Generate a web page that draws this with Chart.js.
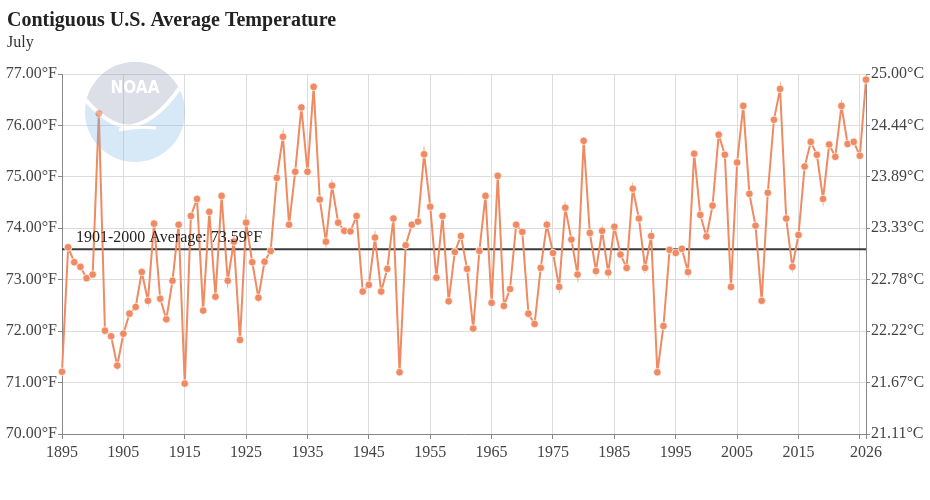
<!DOCTYPE html>
<html>
<head>
<meta charset="utf-8">
<script src="https://cdn.jsdelivr.net/npm/chart.js@4"></script>
<style>
  html, body { margin: 0; padding: 0; background: #fff; }
  #wrap { width: 930px; height: 500px; position: relative; }
</style>
</head>
<body>
<div id="wrap"><canvas id="tempChart"></canvas></div>
<script>
// July average temperature, contiguous U.S. (°F)
const startYear = 1895;
const endYear = 2026;
const julyTemps = [
  71.21, 73.63, 73.34, 73.25, 73.03, 73.10, 76.23, 72.01, 71.90, 71.33, // 1895-1904
  71.95, 72.34, 72.47, 73.15, 72.59, 74.09, 72.63, 72.23, 72.98, 74.07, // 1905-1914
  70.98, 74.24, 74.57, 72.40, 74.32, 72.67, 74.63, 72.98, 73.74, 71.83, // 1915-1924
  74.11, 73.34, 72.65, 73.35, 73.56, 74.98, 75.78, 74.07, 75.10, 76.35, // 1925-1934
  75.10, 76.75, 74.56, 73.74, 74.83, 74.11, 73.95, 73.94, 74.24, 72.77, // 1935-1944
  72.90, 73.82, 72.77, 73.21, 74.19, 71.20, 73.67, 74.07, 74.13, 75.44, // 1945-1954
  74.42, 73.04, 74.24, 72.58, 73.54, 73.85, 73.21, 72.05, 73.56, 74.63, // 1955-1964
  72.55, 75.02, 72.49, 72.82, 74.07, 73.93, 72.34, 72.14, 73.23, 74.07, // 1965-1974
  73.52, 72.86, 74.40, 73.78, 73.10, 75.70, 73.91, 73.17, 73.95, 73.14, // 1975-1984
  74.03, 73.49, 73.23, 74.77, 74.19, 73.23, 73.85, 71.20, 72.10, 73.58, // 1985-1994
  73.52, 73.60, 73.15, 75.45, 74.26, 73.84, 74.44, 75.82, 75.43, 72.86, // 1995-2004
  75.28, 76.38, 74.67, 74.05, 72.59, 74.69, 76.11, 76.71, 74.19, 73.25, // 2005-2014
  73.87, 75.20, 75.68, 75.43, 74.57, 75.63, 75.39, 76.38, 75.64, 75.68, // 2015-2024
  75.41, 76.89                                                          // 2025-2026
];
const years = julyTemps.map((v, i) => startYear + i);
const averageValue = 73.59;
const yearTicks = [1895, 1905, 1915, 1925, 1935, 1945, 1955, 1965, 1975, 1985, 1995, 2005, 2015, 2025, 2026];
const fTicks = [70, 71, 72, 73, 74, 75, 76, 77];

const serif = '"Liberation Serif", "Times New Roman", serif';

// NOAA logo, drawn once off screen then laid over the chart
function makeLogo() {
  const c = document.createElement('canvas');
  c.width = 104; c.height = 104;
  const g = c.getContext('2d');
  g.beginPath();
  g.arc(52, 52, 50, 0, Math.PI * 2);
  g.clip();
  g.fillStyle = 'rgb(122,182,225)';
  g.fillRect(0, 0, 104, 104);
  g.fillStyle = 'rgb(138,145,178)';
  g.beginPath();
  g.moveTo(0, 37);
  g.quadraticCurveTo(28, 70, 50, 66);
  g.quadraticCurveTo(80, 58, 104, 16);
  g.lineTo(104, 0);
  g.lineTo(0, 0);
  g.closePath();
  g.fill();
  g.strokeStyle = '#fff';
  g.lineWidth = 4;
  g.beginPath();
  g.moveTo(0, 37);
  g.quadraticCurveTo(28, 70, 50, 66);
  g.quadraticCurveTo(80, 58, 104, 16);
  g.stroke();
  g.lineWidth = 3;
  g.beginPath();
  g.moveTo(36, 70);
  g.quadraticCurveTo(55, 66, 73, 68);
  g.stroke();
  g.fillStyle = '#fff';
  g.font = 'bold 17px "DejaVu Sans Condensed", "DejaVu Sans", sans-serif';
  g.textAlign = 'center';
  g.textBaseline = 'middle';
  g.fillText('NOAA', 52, 29);
  return c;
}
const logo = makeLogo();

const decorations = {
  id: 'decorations',
  afterDatasetsDraw(chart) {
    const ctx = chart.ctx;
    const x = chart.scales.x, y = chart.scales.y;
    ctx.save();
    ctx.fillStyle = '#222';
    ctx.font = '16px ' + serif;
    ctx.textBaseline = 'alphabetic';
    ctx.fillText('1901-2000 Average: ' + averageValue.toFixed(2) + '°F',
      x.getPixelForValue(startYear) + 14, y.getPixelForValue(averageValue) - 7);
    ctx.globalAlpha = 0.3;
    ctx.drawImage(logo, 83, 60);
    ctx.restore();
  },
  afterDraw(chart) {
    const ctx = chart.ctx;
    ctx.save();
    ctx.fillStyle = '#222';
    ctx.font = 'bold 20px ' + serif;
    ctx.fillText('Contiguous U.S. Average Temperature', 7, 26);
    ctx.fillStyle = '#333';
    ctx.font = '16px ' + serif;
    ctx.fillText('July', 7, 47);
    ctx.restore();
  }
};

new Chart(document.getElementById('tempChart'), {
  type: 'line',
  data: {
    datasets: [
      {
        label: 'July',
        data: julyTemps.map((v, i) => ({ x: years[i], y: v })),
        borderColor: '#ef8a62',
        backgroundColor: '#ef8a62',
        borderWidth: 2,
        pointRadius: 3.8,
        pointBorderColor: 'rgba(255,255,255,0.7)',
        pointBorderWidth: 1,
        tension: 0,
        clip: false
      },
      {
        label: 'Average',
        data: [{ x: startYear, y: averageValue }, { x: endYear, y: averageValue }],
        borderColor: '#3a3a3a',
        borderWidth: 2,
        pointRadius: 0
      }
    ]
  },
  options: {
    responsive: true,
    maintainAspectRatio: false,
    animation: false,
    layout: { padding: { top: 74, left: 0, right: 0, bottom: 0 } },
    plugins: { legend: { display: false }, tooltip: { enabled: false } },
    scales: {
      x: {
        type: 'linear',
        min: startYear,
        max: endYear,
        afterBuildTicks(s) { s.ticks = yearTicks.map(v => ({ value: v })); },
        afterFit(s) { s.height = 66; },
        grid: { color: '#dcdcdc', tickColor: '#888', tickLength: 5 },
        border: { color: '#888' },
        ticks: {
          autoSkip: false,
          maxRotation: 0,
          padding: 4,
          color: '#444',
          font: { family: serif, size: 16 },
          callback: v => (v === 2025 ? '' : String(v))
        }
      },
      y: {
        position: 'left',
        min: 70,
        max: 77,
        afterBuildTicks(s) { s.ticks = fTicks.map(v => ({ value: v })); },
        afterFit(s) { s.width = 62; },
        grid: { color: '#dcdcdc', tickColor: '#888', tickLength: 4 },
        border: { color: '#888' },
        ticks: {
          padding: 1,
          color: '#444',
          font: { family: serif, size: 16 },
          callback: v => v.toFixed(2) + '°F'
        }
      },
      y2: {
        position: 'right',
        min: 70,
        max: 77,
        afterBuildTicks(s) { s.ticks = fTicks.map(v => ({ value: v })); },
        afterFit(s) { s.width = 64; },
        grid: { drawOnChartArea: false, tickColor: '#888', tickLength: 4 },
        border: { color: '#888' },
        ticks: {
          padding: 1,
          color: '#444',
          font: { family: serif, size: 16 },
          callback: v => ((v - 32) * 5 / 9).toFixed(2) + '°C'
        }
      }
    }
  },
  plugins: [decorations]
});
</script>
</body>
</html>
